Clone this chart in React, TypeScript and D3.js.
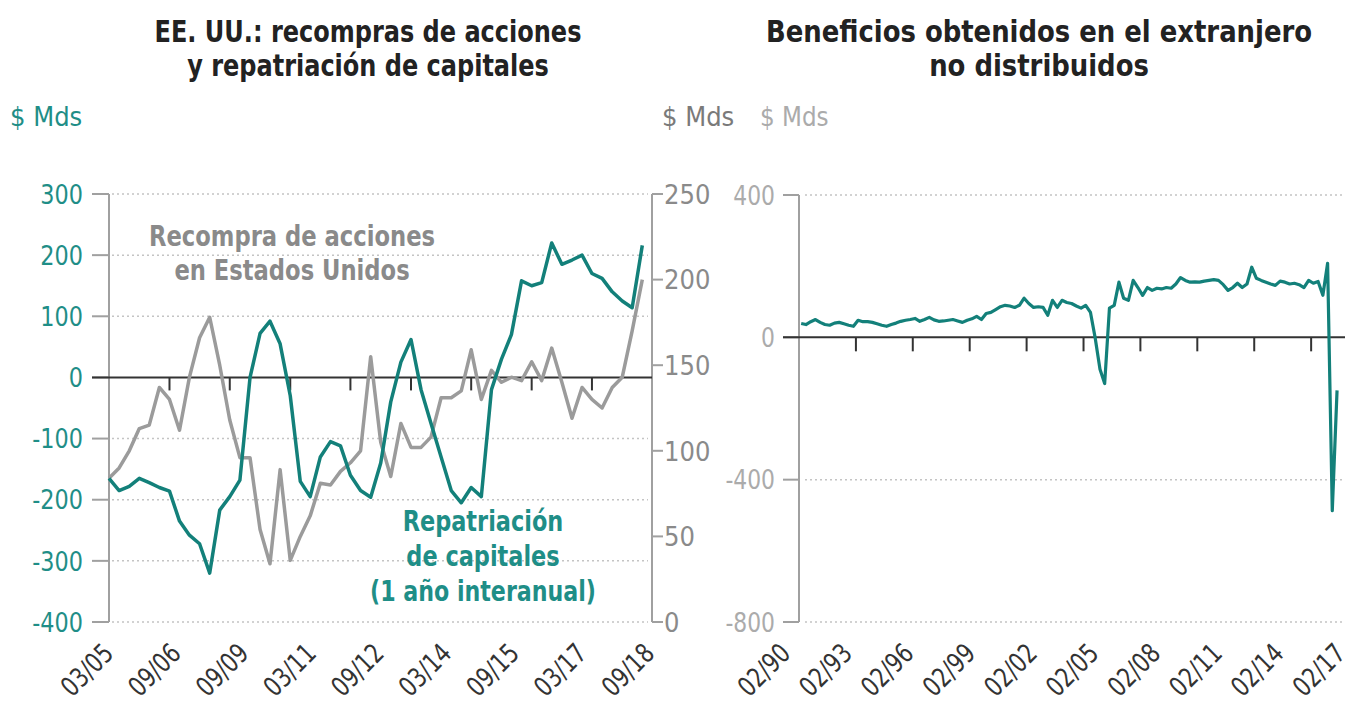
import React from "react";
import * as d3 from "d3";

const FONT = "'Liberation Sans Narrow', 'Arial Narrow', 'DejaVu Sans Condensed', sans-serif";
const TEAL = "#13807a";
const TEAL_TXT = "#1f8e87";
const GREY = "#9b9b9b";

// ---- left chart: quarterly, first quarter 03/05
const leftStart = new Date(2005, 2, 1);
const leftEnd = new Date(2018, 7, 28);
const repatriacion = [
  -165, -185, -178, -165, -172, -180, -186, -235, -258, -272, -320, -217, -195, -168,
  0, 72, 92, 55, -30, -170, -195, -130, -105, -112, -160, -185, -196, -140,
  -40, 25, 62, -20, -75, -130, -185, -205, -180, -195, -20, 30, 70, 158,
  150, 155, 220, 185, 192, 200, 170, 162, 140, 125, 114, 216,
];
const recompras = [
  84, 90, 100, 113, 115, 137, 130, 112, 143, 166, 178, 150, 118, 96,
  96, 54, 34, 89, 36, 50, 62, 81, 80, 88, 93, 100, 155, 105,
  85, 116, 102, 102, 108, 131, 131, 135, 159, 130, 147, 140, 143, 141,
  152, 141, 160, 140, 119, 137, 130, 125, 137, 143, 170, 200,
];
const leftXLabels = ["03/05", "09/06", "09/09", "03/11", "09/12", "03/14", "09/15", "03/17", "09/18"];
const leftYTicks = [300, 200, 100, 0, -100, -200, -300, -400];
const leftY2Ticks = [250, 200, 150, 100, 50, 0];

// ---- right chart: quarterly, first quarter 1990
const rightAxisStart = new Date(1990, 1, 1);
const rightFirstQuarter = new Date(1990, 2, 15);
const rightEnd = new Date(2018, 10, 15);
const beneficios = [
  39, 36, 44, 50, 42, 36, 34, 40, 42, 38, 34, 31, 48, 44, 44, 42, 38, 34, 31, 36,
  40, 45, 48, 50, 53, 45, 50, 56, 49, 45, 46, 48, 50, 46, 42, 48, 52, 59, 50, 67,
  70, 78, 86, 90, 88, 84, 90, 110, 95, 84, 86, 84, 62, 104, 84, 104, 98, 95, 88, 82,
  90, 70, -3, -90, -130, 82, 90, 155, 110, 104, 160, 140, 118, 140, 132, 138, 136, 140, 138, 150,
  168, 160, 155, 156, 155, 158, 160, 162, 160, 148, 132, 140, 152, 140, 150, 197, 166, 160, 155, 150,
  146, 158, 155, 150, 152, 148, 140, 160, 152, 157, 118, 208, -487, -149,
];
const rightXLabels = ["02/90", "02/93", "02/96", "02/99", "02/02", "02/05", "02/08", "02/11", "02/14", "02/17"];
const rightYTicks = [400, 0, -400, -800];

// narrow text: the condensed face is still wider than the original one
function NT(props: any) {
  const { x, y, sx = 0.9, rot = 0, children, ...rest } = props;
  return (
    <text transform={`translate(${x},${y}) rotate(${rot}) scale(${sx},1)`} {...rest}>
      {children}
    </text>
  );
}

function LeftChart() {
  const x0 = 109, x1 = 652, yTop = 194, yBot = 622;
  const x = d3.scaleTime().domain([leftStart, leftEnd]).range([x0, x1]);
  const y = d3.scaleLinear().domain([-400, 300]).range([yBot, yTop]);
  const y2 = d3.scaleLinear().domain([0, 250]).range([yBot, yTop]);
  const date = (i: number) => d3.timeMonth.offset(leftStart, 3 * i);
  const tickDates = d3.range(1, 9).map((k) => d3.timeMonth.offset(leftStart, 18 * k));
  const lab = d3.scalePoint().domain(leftXLabels).range([x0 + 6, x1 + 4]);

  const teal = d3.line<number>().x((d, i) => x(date(i))).y((d) => y(d));
  const grey = d3.line<number>().x((d, i) => x(date(i))).y((d) => y2(d));

  return (
    <g fontFamily={FONT}>
      <NT x={368} y={42} sx={0.89} textAnchor="middle" fontSize={30} fontWeight="bold" fill="#222">EE. UU.: recompras de acciones</NT>
      <NT x={368} y={76} sx={0.89} textAnchor="middle" fontSize={30} fontWeight="bold" fill="#222">y repatriación de capitales</NT>
      <NT x={10} y={126} sx={1} fontSize={27} fill={TEAL_TXT}>$ Mds</NT>
      <NT x={662} y={126} sx={1} fontSize={27} fill="#7a7a7a">$ Mds</NT>

      {leftYTicks.filter((t) => t !== 0).map((t) => (
        <line key={t} x1={x0 + 3} x2={x1 - 4} y1={y(t)} y2={y(t)} stroke="#c4c4c4" strokeWidth={1.5} strokeDasharray="2,3" />
      ))}
      <line x1={x0} x2={x0} y1={yTop} y2={yBot} stroke="#a0a0a0" strokeWidth={2} />
      <line x1={x1} x2={x1} y1={yTop} y2={yBot} stroke="#a0a0a0" strokeWidth={2} />
      {leftYTicks.map((t) => (
        <g key={t}>
          <line x1={x0 - 17} x2={x0} y1={y(t)} y2={y(t)} stroke="#a0a0a0" strokeWidth={2} />
          <NT x={83} y={y(t)} sx={0.92} dy="0.36em" textAnchor="end" fontSize={27} fill={TEAL_TXT}>{t}</NT>
        </g>
      ))}
      {leftY2Ticks.map((t) => (
        <g key={t}>
          <line x1={x1} x2={x1 + 11} y1={y2(t)} y2={y2(t)} stroke="#a0a0a0" strokeWidth={2} />
          <NT x={664} y={y2(t)} sx={1} dy="0.36em" fontSize={27} fill="#8a8a8a">{t}</NT>
        </g>
      ))}
      <line x1={x0 - 17} x2={x1} y1={y(0)} y2={y(0)} stroke="#333" strokeWidth={2} />
      {tickDates.map((d, i) => (
        <line key={i} x1={x(d)} x2={x(d)} y1={y(0)} y2={y(0) + 13} stroke="#333" strokeWidth={2} />
      ))}

      <path d={grey(recompras) || ""} fill="none" stroke={GREY} strokeWidth={3.5} strokeLinejoin="round" />
      <path d={teal(repatriacion) || ""} fill="none" stroke={TEAL} strokeWidth={3.5} strokeLinejoin="round" />

      <NT x={292} y={246} textAnchor="middle" fontSize={28} fontWeight="bold" fill="#8a8a8a">Recompra de acciones</NT>
      <NT x={292} y={280} textAnchor="middle" fontSize={28} fontWeight="bold" fill="#8a8a8a">en Estados Unidos</NT>
      <NT x={483} y={531} sx={0.89} textAnchor="middle" fontSize={28} fontWeight="bold" fill={TEAL_TXT}>Repatriación</NT>
      <NT x={483} y={566} sx={0.89} textAnchor="middle" fontSize={28} fontWeight="bold" fill={TEAL_TXT}>de capitales</NT>
      <NT x={483} y={601} sx={0.88} textAnchor="middle" fontSize={28} fontWeight="bold" fill={TEAL_TXT}>(1 año interanual)</NT>

      {leftXLabels.map((l) => (
        <NT key={l} x={lab(l)} y={655} rot={-45} sx={0.87} textAnchor="end" fontSize={27} fill="#333">{l}</NT>
      ))}
    </g>
  );
}

function RightChart() {
  const x0 = 799, x1 = 1345, yTop = 195, yBot = 622;
  const x = d3.scaleTime().domain([rightAxisStart, rightEnd]).range([x0, x1]);
  const y = d3.scaleLinear().domain([-800, 400]).range([yBot, yTop]);
  const date = (i: number) => d3.timeMonth.offset(rightFirstQuarter, 3 * i);
  const tickDates = d3.range(1, 10).map((k) => d3.timeMonth.offset(rightAxisStart, 36 * k));
  const lab = d3.scalePoint().domain(rightXLabels).range([792, 1347]);
  const line = d3.line<number>().x((d, i) => x(date(i))).y((d) => y(d));

  return (
    <g fontFamily={FONT}>
      <NT x={1039} y={42} sx={0.96} textAnchor="middle" fontSize={30} fontWeight="bold" fill="#222">Beneficios obtenidos en el extranjero</NT>
      <NT x={1039} y={76} sx={0.96} textAnchor="middle" fontSize={30} fontWeight="bold" fill="#222">no distribuidos</NT>
      <NT x={760} y={126} sx={0.95} fontSize={27} fill="#ababab">$ Mds</NT>

      {rightYTicks.filter((t) => t !== 0).map((t) => (
        <line key={t} x1={x0 + 6} x2={x1} y1={y(t)} y2={y(t)} stroke="#c4c4c4" strokeWidth={1.5} strokeDasharray="2,3" />
      ))}
      <line x1={x0} x2={x0} y1={yTop} y2={yBot} stroke="#a0a0a0" strokeWidth={2} />
      {rightYTicks.map((t) => (
        <g key={t}>
          <line x1={x0 - 16} x2={x0} y1={y(t)} y2={y(t)} stroke="#a0a0a0" strokeWidth={2} />
          <NT x={775} y={y(t)} sx={0.9} dy="0.36em" textAnchor="end" fontSize={27} fill="#ababab">{t}</NT>
        </g>
      ))}
      <line x1={x0 - 16} x2={x1} y1={y(0)} y2={y(0)} stroke="#333" strokeWidth={2} />
      {tickDates.map((d, i) => (
        <line key={i} x1={x(d)} x2={x(d)} y1={y(0)} y2={y(0) + 14} stroke="#333" strokeWidth={2} />
      ))}

      <path d={line(beneficios) || ""} fill="none" stroke={TEAL} strokeWidth={3.2} strokeLinejoin="round" />

      {rightXLabels.map((l) => (
        <NT key={l} x={lab(l)} y={655} rot={-45} sx={0.87} textAnchor="end" fontSize={27} fill="#333">{l}</NT>
      ))}
    </g>
  );
}

export default function App() {
  return (
    <svg width={1359} height={704} style={{ position: "absolute", left: 0, top: 0, background: "#fff" }}>
      <LeftChart />
      <RightChart />
    </svg>
  );
}
